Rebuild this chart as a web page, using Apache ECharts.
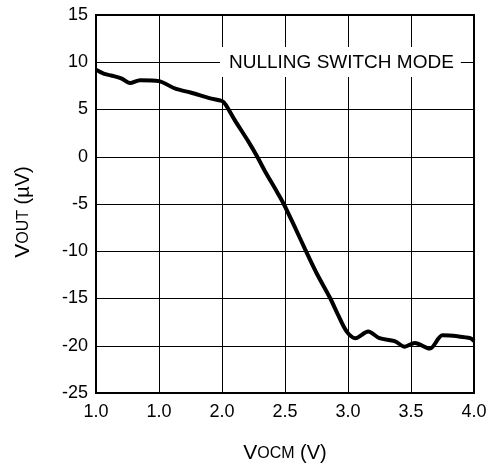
<!DOCTYPE html>
<html>
<head>
<meta charset="utf-8">
<script src="https://cdn.jsdelivr.net/npm/echarts@6/dist/echarts.min.js"></script>
<style>
  html, body { margin: 0; padding: 0; background: #fff; }
  #chart { width: 496px; height: 467px; }
</style>
</head>
<body>
<div id="chart"></div>
<script>
// tick labels as printed on the sheet (second one reads 1.0, kept as is)
var xTickLabels = ['1.0', '1.0', '2.0', '2.5', '3.0', '3.5', '4.0'];
// curve: VOCM (V) and VOUT (uV)
var vocm = [1.0, 1.06, 1.12, 1.2, 1.27, 1.35, 1.5, 1.63, 1.75, 1.9, 2.0, 2.03, 2.1, 2.21, 2.28, 2.34, 2.44, 2.49,
  2.58, 2.66, 2.75, 2.86, 2.92, 2.99, 3.06, 3.16, 3.25, 3.37, 3.45, 3.53, 3.65, 3.75, 3.87, 3.97, 4.0];
var vout = [9.2, 8.8, 8.6, 8.3, 7.8, 8.1, 8.0, 7.2, 6.8, 6.2, 5.9, 5.5, 3.9, 1.6, 0.0, -1.5, -3.8, -5.0,
  -7.5, -9.8, -12.3, -15.0, -16.7, -18.5, -19.2, -18.5, -19.2, -19.5, -20.1, -19.7, -20.3, -18.9, -19.0, -19.2, -19.5];
var annotation = 'NULLING SWITCH MODE';

var points = vocm.map(function (x, i) { return [x, vout[i]]; });

var chart = echarts.init(document.getElementById('chart'));
var fontFam = '"Liberation Sans", Arial, sans-serif';

chart.setOption({
  backgroundColor: '#fff',
  animation: false,
  grid: { left: 96, top: 15, width: 378, height: 378, containLabel: false, outerBoundsMode: 'none' },
  xAxis: {
    type: 'value',
    min: 1.0,
    max: 4.0,
    interval: 0.5,
    name: '{big|V}{small|OCM} (V)',
    nameLocation: 'middle',
    nameGap: 50,
    nameTextStyle: {
      color: '#000', fontFamily: fontFam, fontSize: 20,
      rich: {
        big: { fontSize: 21, fontFamily: fontFam, color: '#000' },
        small: { fontSize: 16, fontFamily: fontFam, color: '#000' }
      }
    },
    axisLine: { show: true, onZero: false, lineStyle: { color: '#000', width: 2 } },
    axisTick: { show: false },
    splitLine: { show: true, lineStyle: { color: '#000', width: 1 } },
    axisLabel: {
      color: '#000', fontFamily: fontFam, fontSize: 18, margin: 10,
      formatter: function (v) {
        var i = Math.round((v - 1.0) / 0.5);
        return xTickLabels[i];
      }
    }
  },
  yAxis: {
    type: 'value',
    min: -25,
    max: 15,
    interval: 5,
    name: '{big|V}{small|OUT} (\u00b5V)',
    nameLocation: 'middle',
    nameGap: 62,
    nameTextStyle: {
      color: '#000', fontFamily: fontFam, fontSize: 20,
      padding: [0, 16, 0, 0],
      rich: {
        big: { fontSize: 21, fontFamily: fontFam, color: '#000' },
        small: { fontSize: 16, fontFamily: fontFam, color: '#000' }
      }
    },
    axisLine: { show: true, onZero: false, lineStyle: { color: '#000', width: 2 } },
    axisTick: { show: false },
    splitLine: { show: true, lineStyle: { color: '#000', width: 1 } },
    axisLabel: { color: '#000', fontFamily: fontFam, fontSize: 18, margin: 8 }
  },
  graphic: [
    // plot frame on top/right
    {
      type: 'rect', z: 1,
      shape: { x: 96, y: 15, width: 378, height: 378 },
      style: { fill: 'none', stroke: '#000', lineWidth: 2 }
    },
    {
      type: 'text', z: 10,
      left: 220, top: 47,
      style: {
        text: annotation,
        fill: '#000',
        font: '19px ' + fontFam,
        backgroundColor: '#fff',
        padding: [6, 7, 5, 9]
      }
    }
  ],
  series: [{
    type: 'line',
    data: points,
    smooth: 0.3,
    symbol: 'none',
    lineStyle: { color: '#000', width: 4 },
    z: 5
  }]
});
</script>
</body>
</html>
